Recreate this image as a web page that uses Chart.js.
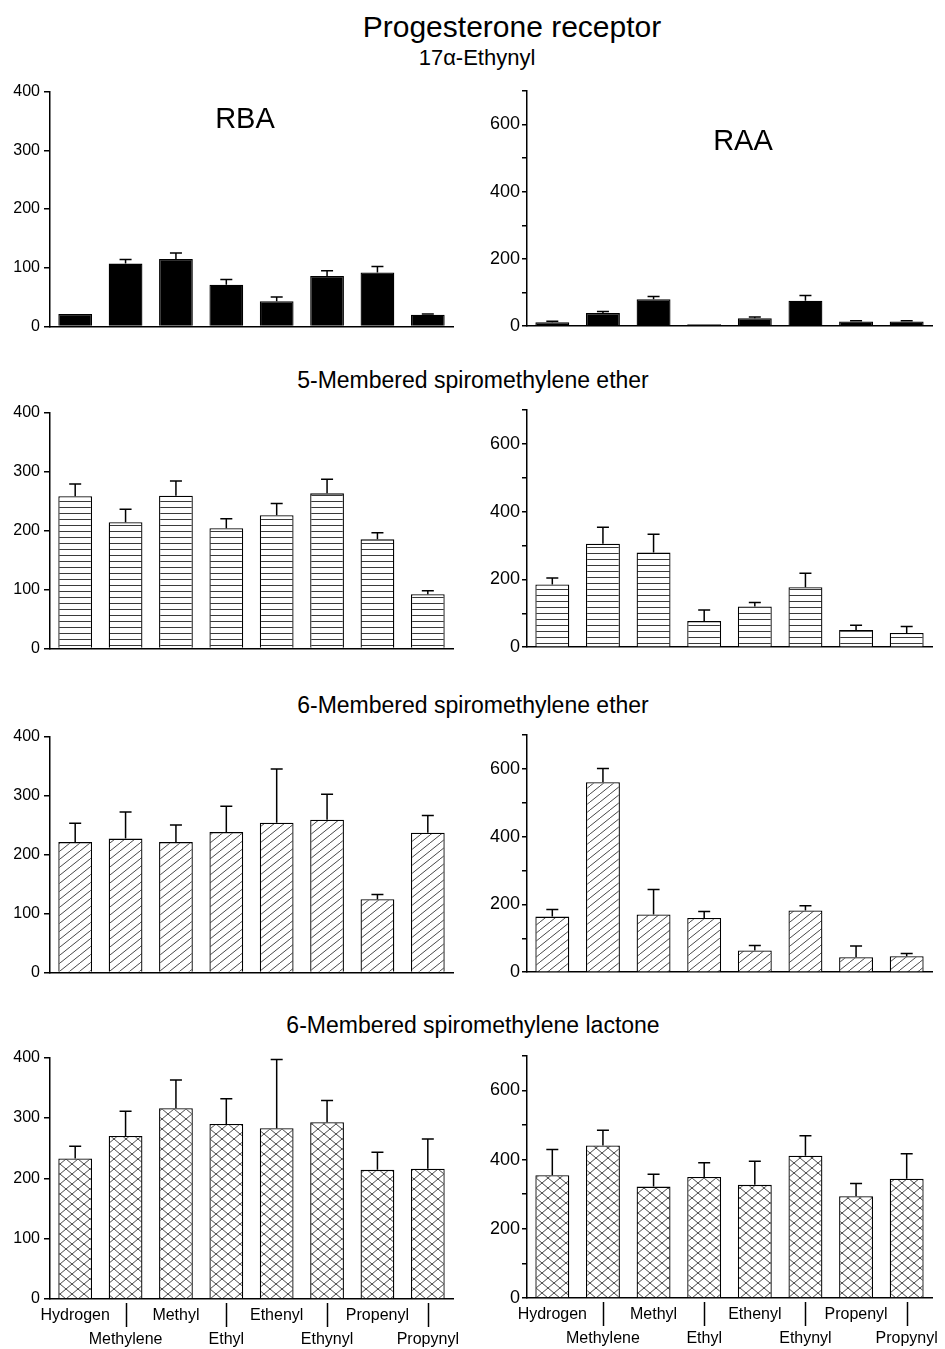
<!DOCTYPE html>
<html>
<head>
<meta charset="utf-8">
<title>Progesterone receptor</title>
<script src="https://cdn.jsdelivr.net/npm/chart.js@4.4.0/dist/chart.umd.min.js"></script>
<style>
    body { margin: 0; background: #fff; width: 945px; height: 1349px; position: relative; overflow: hidden;
           font-family: "Liberation Sans", Arial, sans-serif; color: #000; }
    canvas { position: absolute; }
    .txt { position: absolute; white-space: nowrap; transform: translate(-50%, -50%); line-height: 1; }
</style>
</head>
<body>

<div class="txt" style="left:512px;top:27px;font-size:30px">Progesterone receptor</div>
<div class="txt" style="left:477px;top:58px;font-size:22px">17&alpha;-Ethynyl</div>
<div class="txt" style="left:473px;top:380px;font-size:23px">5-Membered spiromethylene ether</div>
<div class="txt" style="left:473px;top:705px;font-size:23px">6-Membered spiromethylene ether</div>
<div class="txt" style="left:473px;top:1025px;font-size:23px">6-Membered spiromethylene lactone</div>

<canvas id="chart-ethynyl-rba" width="470" height="262" style="left:0;top:78px"></canvas>
<canvas id="chart-ethynyl-raa" width="475" height="261" style="left:470px;top:78px"></canvas>
<canvas id="chart-spiro5-rba" width="470" height="263" style="left:0;top:399px"></canvas>
<canvas id="chart-spiro5-raa" width="475" height="263" style="left:470px;top:397px"></canvas>
<canvas id="chart-spiro6-rba" width="470" height="263" style="left:0;top:723px"></canvas>
<canvas id="chart-spiro6-raa" width="475" height="263" style="left:470px;top:722px"></canvas>
<canvas id="chart-lactone-rba" width="470" height="304" style="left:0;top:1044px"></canvas>
<canvas id="chart-lactone-raa" width="475" height="304" style="left:470px;top:1043px"></canvas>

<div class="txt" style="left:245px;top:118px;font-size:29px">RBA</div>
<div class="txt" style="left:743px;top:140px;font-size:29px">RAA</div>

<script>
// sustituyentes en el orden del eje x
var substituents = ['Hydrogen', 'Methylene', 'Methyl', 'Ethyl', 'Ethenyl', 'Ethynyl', 'Propenyl', 'Propynyl'];

// etiquetas de los ejes y
var rbaTickLabels = [0, 100, 200, 300, 400];
var raaTickLabels = [0, 200, 400, 600];

// 17a-Ethynyl
var ethynylRBA = [21, 107, 115, 71, 43, 86, 92, 20];
var ethynylRBAErr = [0, 7, 10, 9, 7, 9, 10, 1];
var ethynylRAA = [12, 39, 80, 6, 24, 76, 14, 14];
var ethynylRAAErr = [3, 5, 8, 0, 3, 15, 2, 2];

// 5-Membered spiromethylene ether
var spiro5RBA = [258, 214, 259, 204, 226, 263, 185, 92];
var spiro5RBAErr = [21, 22, 25, 16, 20, 24, 11, 6];
var spiro5RAA = [185, 305, 279, 77, 120, 177, 51, 42];
var spiro5RAAErr = [19, 49, 54, 33, 12, 41, 14, 19];

// 6-Membered spiromethylene ether
var spiro6RBA = [221, 227, 221, 238, 254, 259, 124, 237];
var spiro6RBAErr = [32, 45, 29, 44, 91, 43, 8, 29];
var spiro6RAA = [164, 560, 170, 160, 64, 182, 44, 47];
var spiro6RAAErr = [21, 41, 74, 19, 15, 14, 33, 8];

// 6-Membered spiromethylene lactone
var lactoneRBA = [233, 270, 316, 290, 283, 293, 214, 216];
var lactoneRBAErr = [20, 41, 47, 42, 114, 36, 29, 49];
var lactoneRAA = [355, 441, 322, 350, 327, 411, 294, 345];
var lactoneRAAErr = [74, 44, 36, 41, 68, 58, 37, 72];

var FONT = '"Liberation Sans", Arial, sans-serif';

// Dibuja las barras de error (solo hacia arriba)
var errorBarsPlugin = {
    id: 'errorBars',
    afterDatasetsDraw: function (chart) {
        var ds = chart.data.datasets[0];
        var meta = chart.getDatasetMeta(0);
        var yScale = chart.scales.y;
        var ctx = chart.ctx;
        ctx.save();
        ctx.strokeStyle = '#000';
        ctx.lineWidth = 1.5;
        meta.data.forEach(function (bar, i) {
            if (!ds.errors[i]) return;
            var top = yScale.getPixelForValue(ds.data[i] + ds.errors[i]);
            ctx.beginPath();
            ctx.moveTo(bar.x, bar.y);
            ctx.lineTo(bar.x, top);
            ctx.moveTo(bar.x - 6, top);
            ctx.lineTo(bar.x + 6, top);
            ctx.stroke();
        });
        ctx.restore();
    }
};

// Lineas verticales entre las etiquetas escalonadas del eje x
var separatorPlugin = {
    id: 'labelSeparators',
    afterDraw: function (chart) {
        var xScale = chart.scales.x;
        var ctx = chart.ctx;
        ctx.save();
        ctx.strokeStyle = '#000';
        ctx.lineWidth = 1.5;
        for (var i = 1; i < substituents.length; i += 2) {
            var px = Math.round(xScale.getPixelForValue(i)) + 0.5;
            ctx.beginPath();
            ctx.moveTo(px, xScale.top + 4);
            ctx.lineTo(px, xScale.top + 28);
            ctx.stroke();
        }
        ctx.restore();
    }
};

function makePattern(kind) {
    var c = document.createElement('canvas');
    var g;
    if (kind === 'solid') return '#000';
    if (kind === 'hlines') {
        c.width = 8; c.height = 6;
        g = c.getContext('2d');
        g.fillStyle = '#fff'; g.fillRect(0, 0, 8, 6);
        g.fillStyle = '#3a3a3a'; g.fillRect(0, 0, 8, 1);
    } else if (kind === 'diag') {
        c.width = 10; c.height = 8;
        g = c.getContext('2d');
        g.fillStyle = '#fff'; g.fillRect(0, 0, 10, 8);
        g.strokeStyle = '#333'; g.lineWidth = 0.9;
        g.beginPath();
        g.moveTo(-10, 8); g.lineTo(0, 0);
        g.moveTo(0, 8); g.lineTo(10, 0);
        g.moveTo(10, 8); g.lineTo(20, 0);
        g.stroke();
    } else {
        c.width = 12; c.height = 10;
        g = c.getContext('2d');
        g.fillStyle = '#fff'; g.fillRect(0, 0, 12, 10);
        g.strokeStyle = '#333'; g.lineWidth = 0.9;
        g.beginPath();
        g.moveTo(0, 0); g.lineTo(12, 10);
        g.moveTo(0, 10); g.lineTo(12, 0);
        g.stroke();
    }
    return document.createElement('canvas').getContext('2d').createPattern(c, 'repeat');
}

// side: 'rba' (eje 0-400) o 'raa' (eje 0-700)
function renderPanel(canvasId, values, errors, kind, side, bottomRow) {
    var isRBA = side === 'rba';
    var tickLabels = isRBA ? rbaTickLabels : raaTickLabels;
    var ctx = document.getElementById(canvasId);

    var plugins = [errorBarsPlugin];
    if (bottomRow) plugins.push(separatorPlugin);

    return new Chart(ctx, {
        type: 'bar',
        data: {
            labels: substituents,
            datasets: [{
                data: values,
                errors: errors,
                backgroundColor: makePattern(kind),
                borderColor: '#000',
                borderWidth: 1.3,
                barPercentage: 0.67,
                categoryPercentage: 1
            }]
        },
        plugins: plugins,
        options: {
            responsive: false,
            animation: false,
            devicePixelRatio: 1,
            layout: {
                autoPadding: false,
                padding: { top: 12, right: isRBA ? 17 : 13, left: 0, bottom: 0 }
            },
            plugins: {
                legend: { display: false },
                tooltip: { enabled: false },
                title: { display: false }
            },
            scales: {
                x: {
                    grid: { display: false, drawTicks: false },
                    border: { display: true, color: '#000', width: 1.5 },
                    ticks: {
                        display: bottomRow,
                        autoSkip: false,
                        maxRotation: 0,
                        padding: 5,
                        color: '#000',
                        font: { family: FONT, size: 16, lineHeight: 1.5 },
                        callback: function (value, index) {
                            var name = substituents[index];
                            return index % 2 === 0 ? [name, ''] : ['', name];
                        }
                    },
                    afterFit: function (scale) {
                        scale.height = bottomRow ? 49 : 8;
                    }
                },
                y: {
                    min: 0,
                    max: isRBA ? 400 : 700,
                    grid: { drawOnChartArea: false, drawTicks: true, tickLength: isRBA ? 6 : 5, color: '#000', lineWidth: 1.5 },
                    border: { display: true, color: '#000', width: 1.5 },
                    ticks: {
                        stepSize: 100,
                        padding: isRBA ? 4 : 2,
                        color: '#000',
                        font: { family: FONT, size: isRBA ? 16 : 18 },
                        callback: function (value) {
                            return tickLabels.indexOf(value) >= 0 ? String(value) : '';
                        }
                    },
                    afterFit: function (scale) {
                        scale.width = isRBA ? 50 : 57;
                    }
                }
            }
        }
    });
}

renderPanel('chart-ethynyl-rba', ethynylRBA, ethynylRBAErr, 'solid', 'rba', false);
renderPanel('chart-ethynyl-raa', ethynylRAA, ethynylRAAErr, 'solid', 'raa', false);
renderPanel('chart-spiro5-rba', spiro5RBA, spiro5RBAErr, 'hlines', 'rba', false);
renderPanel('chart-spiro5-raa', spiro5RAA, spiro5RAAErr, 'hlines', 'raa', false);
renderPanel('chart-spiro6-rba', spiro6RBA, spiro6RBAErr, 'diag', 'rba', false);
renderPanel('chart-spiro6-raa', spiro6RAA, spiro6RAAErr, 'diag', 'raa', false);
renderPanel('chart-lactone-rba', lactoneRBA, lactoneRBAErr, 'cross', 'rba', true);
renderPanel('chart-lactone-raa', lactoneRAA, lactoneRAAErr, 'cross', 'raa', true);
</script>
</body>
</html>
